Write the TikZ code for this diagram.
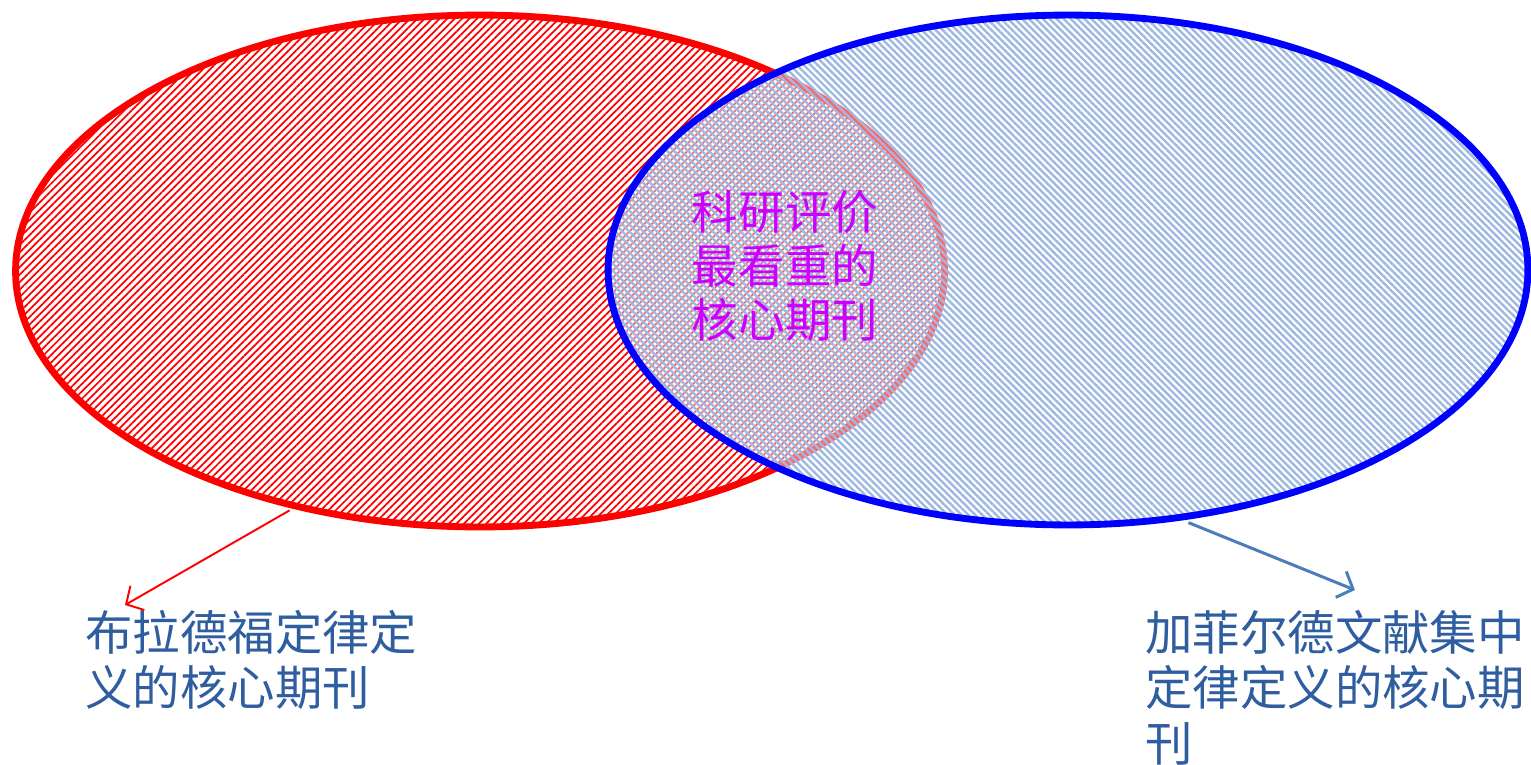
\documentclass[tikz,border=0pt]{standalone}
\usepackage{fontspec}
\setmainfont{Noto Sans CJK SC}
\usetikzlibrary{shapes.geometric, patterns.meta, arrows.meta}
\definecolor{hatchblue}{RGB}{160,185,225}
\definecolor{labelblue}{RGB}{47,94,160}
\definecolor{arrowblue}{RGB}{74,126,187}
\definecolor{midviolet}{RGB}{204,0,255}

\begin{document}
\begin{tikzpicture}[x=0.02cm, y=-0.02cm]
	\tikzstyle{redset} = [ellipse, draw=red, line width=3.9pt, minimum width=18.58cm, minimum height=10.24cm, pattern={Lines[angle=45, distance=3pt, line width=1pt]}, pattern color=red]
	\tikzstyle{blueset} = [ellipse, draw=blue, line width=3.9pt, minimum width=18.4cm, minimum height=10.2cm, preaction={fill=white, fill opacity=0.4}, pattern={Lines[angle=-45, distance=2.8pt, line width=1.4pt]}, pattern color=hatchblue]
	\tikzstyle{setlabel} = [text=labelblue, font=\fontsize{27}{31.5}\selectfont, align=left, anchor=north west, inner sep=0pt]
	\useasboundingbox (0,0) rectangle (1531,764);
	% the two sets
	\node[redset] (brad) at (480,271) {};
	\node[blueset] (garf) at (1068,270) {};
	\node[text=midviolet, font=\fontsize{26.5}{30.6}\selectfont, align=center] (core) at (785,266) {科研评价\\最看重的\\核心期刊};
	% labels
	\node[setlabel] (lbrad) at (85,610) {布拉德福定律定\\义的核心期刊};
	\node[setlabel] (lgarf) at (1145,610) {加菲尔德文献集中\\定律定义的核心期\\刊};
	\draw[red, line width=1.1pt, -{Straight Barb[length=2.6mm, width=5.6mm]}, shorten <=4pt] (brad.-128) -- ([xshift=0.8cm, yshift=0.1cm]lbrad.north west);
	\draw[arrowblue, line width=1.7pt, -{Straight Barb[length=2.6mm, width=5.6mm]}, shorten <=6pt] (garf.-66) -- ([xshift=4.2cm, yshift=0.4cm]lgarf.north west);
\end{tikzpicture}
\end{document}
